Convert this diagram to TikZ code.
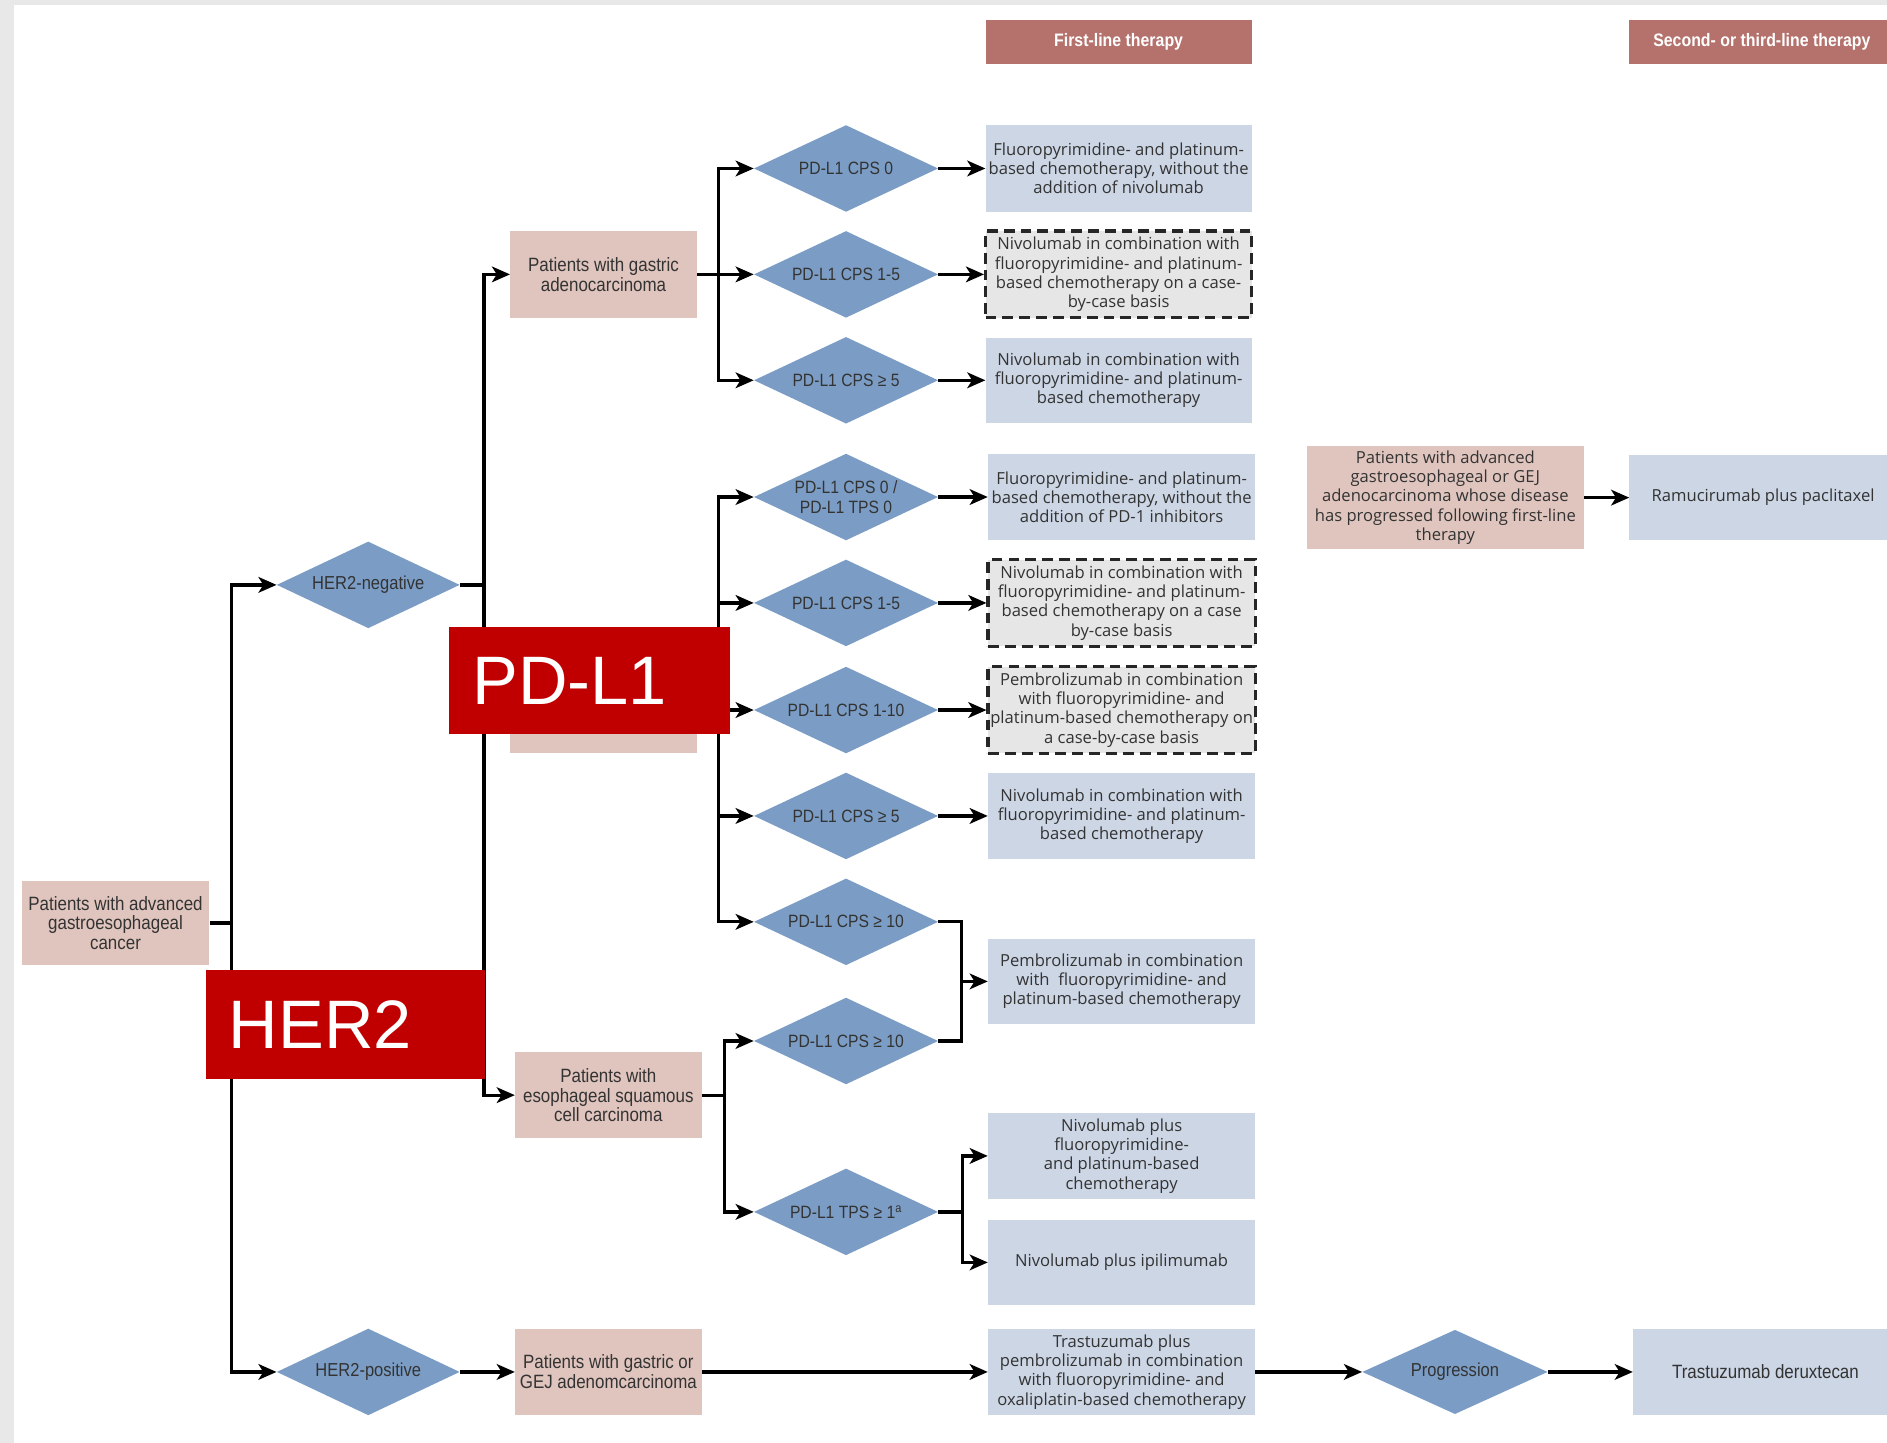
\documentclass[tikz,border=0pt]{standalone}
\usepackage{fontspec}
\setmainfont{Open Sans}
\newfontfamily\condf[FakeStretch=0.88]{Liberation Sans}
\newfontfamily\labf{Liberation Sans}
\usetikzlibrary{shapes.geometric,arrows.meta,calc}
\definecolor{pinkc}{HTML}{E0C5BE}
\definecolor{bluec}{HTML}{CCD6E5}
\definecolor{diamc}{HTML}{7B9DC5}
\definecolor{hdrc}{HTML}{B5716B}
\definecolor{redc}{HTML}{C00000}
\definecolor{txtc}{HTML}{333333}
\definecolor{dashc}{HTML}{E6E6E6}
\definecolor{bgc}{HTML}{E8E8E8}
\tikzset{
  pinkbox/.style={fill=pinkc,text=txtc,inner sep=0pt,align=center,minimum width=155pt,minimum height=72pt,font=\condf\fontsize{16}{16.5}\selectfont},
  bluebox/.style={fill=bluec,text=txtc,inner sep=0pt,align=center,minimum width=222pt,minimum height=72pt,font=\fontsize{13.8}{16}\selectfont},
  dashbox/.style={bluebox,fill=dashc,draw=black!85,line width=2.6pt,dash pattern=on 9pt off 5pt},
  decide/.style={shape=diamond,aspect=2.1,fill=diamc,text=txtc,inner sep=0pt,minimum width=153pt,minimum height=72pt,font=\condf\fontsize{14.8}{16}\selectfont,align=center},
  bigdecide/.style={decide,font=\condf\fontsize{15.6}{16}\selectfont},
  header/.style={fill=hdrc,text=white,inner sep=0pt,minimum height=36pt,font=\condf\bfseries\fontsize{15}{16}\selectfont},
  redlabel/.style={fill=redc,text=white,anchor=north west,inner sep=0pt,text width=194pt,align=left,minimum width=233pt,minimum height=89pt,font=\labf\fontsize{57}{60}\selectfont},
  conn/.style={line width=2.7pt,draw=black,line join=miter},
  arr/.style={conn,-{Stealth[length=15pt,width=13pt,inset=4pt]}},
}
\begin{document}
\begin{tikzpicture}[x=1pt,y=-1pt]
\useasboundingbox (0,0) rectangle (1568,1199);
\fill[bgc] (0,0) rectangle (1568,1199);
\fill[white] (12,4) rectangle (1568,1199);

% headers
\node[header,minimum width=221pt] (h1) at (929.5,35) {First-line therapy};
\node[header,minimum width=214pt] (h2) at (1461,35) {\hspace*{6pt}Second- or third-line therapy};

% left part
\node[pinkbox,minimum width=156pt,minimum height=70pt] (root) at (96,767) {Patients with advanced\\gastroesophageal\\cancer};
\node[bigdecide,minimum width=152pt] (her2neg) at (306,486) {HER2-negative};
\node[bigdecide,minimum width=152pt] (her2pos) at (306,1140) {HER2-positive};

\node[pinkbox] (gastric) at (501.5,228) {Patients with gastric\\adenocarcinoma};
\node[pinkbox] (hidden) at (501.5,590) {};
\node[pinkbox,minimum height=71pt] (escc) at (505.5,910) {Patients with\\esophageal squamous\\cell carcinoma};
\node[pinkbox,minimum height=71pt] (gej) at (505.5,1140) {Patients with gastric or\\GEJ adenomcarcinoma};

% diamonds
\node[decide] (d1) at (703,140) {PD-L1 CPS 0};
\node[decide] (d2) at (703,228) {PD-L1 CPS 1-5};
\node[decide] (d3) at (703,316) {PD-L1 CPS ≥ 5};
\node[decide] (d4) at (703,413) {PD-L1 CPS 0 /\\PD-L1 TPS 0};
\node[decide] (d5) at (703,501) {PD-L1 CPS 1-5};
\node[decide] (d6) at (703,590) {PD-L1 CPS 1-10};
\node[decide] (d7) at (703,678) {PD-L1 CPS ≥ 5};
\node[decide] (d8) at (703,766) {PD-L1 CPS ≥ 10};
\node[decide] (d9) at (703,865) {PD-L1 CPS ≥ 10};
\node[decide] (d10) at (703,1007) {PD-L1 TPS ≥ 1\textsuperscript{a}};

% therapy boxes
\node[bluebox,minimum width=221pt] (t1) at (929.5,140) {Fluoropyrimidine- and platinum-\\based chemotherapy, without the\\addition of nivolumab};
\node[dashbox,minimum width=221pt] (t2) at (929.5,228) {Nivolumab in combination with\\fluoropyrimidine- and platinum-\\based chemotherapy on a case-\\by-case basis};
\node[bluebox,minimum width=221pt,minimum height=71pt] (t3) at (929.5,316) {Nivolumab in combination with\\fluoropyrimidine- and platinum-\\based chemotherapy};
\node[bluebox] (t4) at (932,413) {Fluoropyrimidine- and platinum-\\based chemotherapy, without the\\addition of PD-1 inhibitors};
\node[dashbox] (t5) at (932,501) {Nivolumab in combination with\\fluoropyrimidine- and platinum-\\based chemotherapy on a case\\by-case basis};
\node[dashbox] (t6) at (932,590) {Pembrolizumab in combination\\with fluoropyrimidine- and\\platinum-based chemotherapy on\\a case-by-case basis};
\node[bluebox,minimum height=71pt] (t7) at (932,678) {Nivolumab in combination with\\fluoropyrimidine- and platinum-\\based chemotherapy};
\node[bluebox,minimum height=71pt] (t8) at (932,815.5) {Pembrolizumab in combination\\with\ \ fluoropyrimidine- and\\platinum-based chemotherapy};
\node[bluebox,minimum height=71pt] (t9) at (932,960.5) {Nivolumab plus\\fluoropyrimidine-\\and platinum-based\\chemotherapy};
\node[bluebox,minimum height=70pt] (t10) at (932,1049) {Nivolumab plus ipilimumab};
\node[bluebox,minimum height=71pt] (t11) at (932,1140) {Trastuzumab plus\\pembrolizumab in combination\\with fluoropyrimidine- and\\oxaliplatin-based chemotherapy};
\node[bigdecide,minimum width=154pt,minimum height=70pt] (prog) at (1209,1140) {Progression};
\node[bluebox,minimum width=211pt,minimum height=71pt,font=\condf\fontsize{16}{17}\selectfont] (t12) at (1462.5,1140) {\hspace*{9pt}Trastuzumab deruxtecan};

% second line
\node[pinkbox,minimum width=230pt,minimum height=86pt,font=\fontsize{13.8}{16}\selectfont] (prog2) at (1201,413.5) {Patients with advanced\\gastroesophageal or GEJ\\adenocarcinoma whose disease\\has progressed following first-line\\therapy};
\node[bluebox,minimum width=214pt,minimum height=71pt] (ramu) at (1461,413.5) {\hspace*{8pt}Ramucirumab plus paclitaxel};

% connectors
\coordinate (j1) at ($(root.east)+(18,0)$);
\draw[conn] (root.east) -- (j1);
\draw[arr] (j1) |- (her2neg.west);
\draw[arr] (j1) |- (her2pos.west);

\coordinate (j2) at ($(her2neg.east)+(20,0)$);
\draw[conn] (her2neg.east) -- (j2);
\draw[arr] (j2) |- (gastric.west);
\draw[arr] (j2) |- (hidden.west);
\draw[arr] (j2) |- (escc.west);

\coordinate (j3) at ($(gastric.east)+(18,0)$);
\draw[conn] (gastric.east) -- (j3);
\draw[arr] (j3) |- (d1.west);
\draw[arr] (j3) -- (d2.west);
\draw[arr] (j3) |- (d3.west);

\coordinate (j4) at ($(hidden.east)+(18,0)$);
\draw[conn] (hidden.east) -- (j4);
\draw[arr] (j4) |- (d4.west);
\draw[arr] (j4) |- (d5.west);
\draw[arr] (j4) -- (d6.west);
\draw[arr] (j4) |- (d7.west);
\draw[arr] (j4) |- (d8.west);

\coordinate (j5) at ($(escc.east)+(19,0)$);
\draw[conn] (escc.east) -- (j5);
\draw[arr] (j5) |- (d9.west);
\draw[arr] (j5) |- (d10.west);

\draw[arr] (d1.east) -- (t1.west);
\draw[arr] (d2.east) -- (t2.west);
\draw[arr] (d3.east) -- (t3.west);
\draw[arr] (d4.east) -- (t4.west);
\draw[arr] (d5.east) -- (t5.west);
\draw[arr] (d6.east) -- (t6.west);
\draw[arr] (d7.east) -- (t7.west);

\coordinate (m1) at ($(t8.west)+(-22,0)$);
\draw[conn] (d8.east) -| (m1);
\draw[conn] (d9.east) -| (m1);
\draw[arr] (m1) -- (t8.west);

\coordinate (m2) at ($(d10.east)+(20,0)$);
\draw[conn] (d10.east) -- (m2);
\draw[arr] (m2) |- (t9.west);
\draw[arr] (m2) |- (t10.west);

\draw[arr] (her2pos.east) -- (gej.west);
\draw[arr] (gej.east) -- (t11.west);
\draw[arr] (t11.east) -- (prog.west);
\draw[arr] (prog.east) -- (t12.west);
\draw[arr] (prog2.east) -- (ramu.west);

% overlay labels
\node[redlabel] (pdl1) at (373,521) {PD-L1};
\node[redlabel,minimum width=232pt,minimum height=90pt] (her2) at (171,806) {HER2};
\end{tikzpicture}
\end{document}
